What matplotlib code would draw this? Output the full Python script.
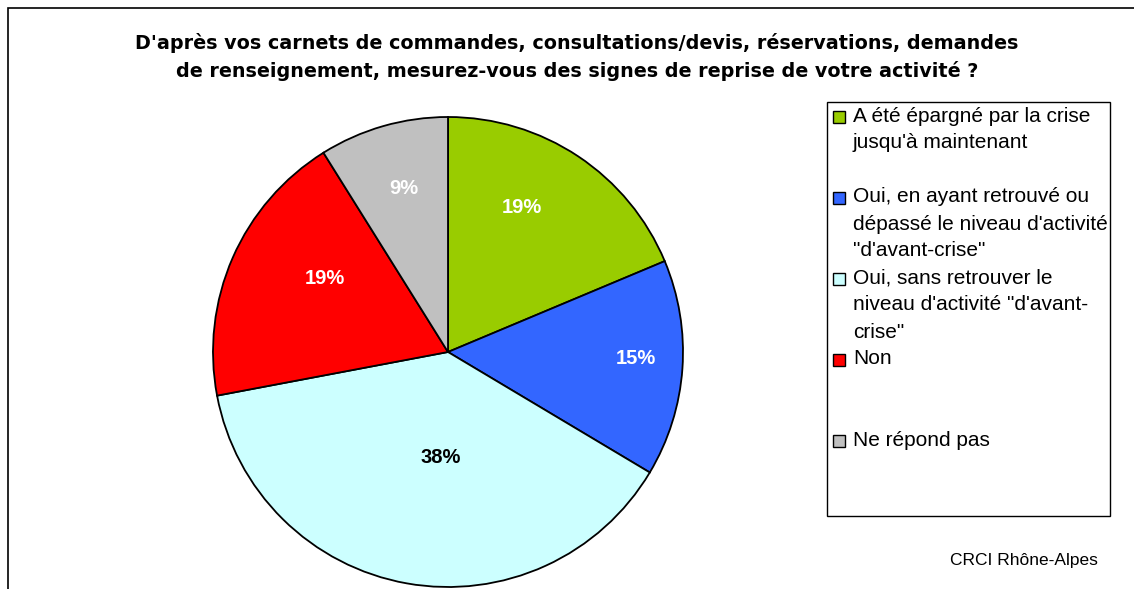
import matplotlib
matplotlib.use("Agg")
import matplotlib.pyplot as plt
from matplotlib.patches import Rectangle
import numpy as np

plt.rcParams['font.family'] = ['Liberation Sans', 'DejaVu Sans']

# ---- data ----
categories = [
    "A été épargné par la crise\njusqu'à maintenant",
    "Oui, en ayant retrouvé ou\ndépassé le niveau d'activité\n\"d'avant-crise\"",
    "Oui, sans retrouver le\nniveau d'activité \"d'avant-\ncrise\"",
    "Non",
    "Ne répond pas",
]
values = [18.7, 14.9, 38.5, 19.1, 8.9]
pct_labels = ["19%", "15%", "38%", "19%", "9%"]
title = ("D'après vos carnets de commandes, consultations/devis, réservations, demandes\n"
         "de renseignement, mesurez-vous des signes de reprise de votre activité ?")
source = "CRCI Rhône-Alpes"

# ---- style ----
colors = ["#99CC00", "#3366FF", "#CCFFFF", "#FF0000", "#C0C0C0"]
label_colors = ["white", "white", "black", "white", "white"]
label_dist = [0.69, 0.80, 0.45, 0.61, 0.72]
label_dang = [6.4, 2.2, 6.2, -7.3, -1.0]

W, H = 1134, 589
fig = plt.figure(figsize=(W / 100, H / 100), dpi=100)

def fx(px):
    return px / W

def fy(py):
    return 1 - py / H

# figure border (left & top visible, rest clipped)
fig.patches.append(Rectangle((fx(8), fy(H + 10)), fx(W + 20), (H + 1 - 9) / H + 10 / H,
                             transform=fig.transFigure, fill=False,
                             edgecolor="black", linewidth=1.2, zorder=0))

# pie axes
cx, cy, r = 448, 352, 235
ax = fig.add_axes([fx(cx - r), fy(cy + r), 2 * r / W, 2 * r / H])
wedges, _ = ax.pie(values, colors=colors, startangle=90, counterclock=False,
                   wedgeprops=dict(edgecolor="black", linewidth=1.3), radius=1)
ax.set_xlim(-1, 1)
ax.set_ylim(-1, 1)
ax.set_aspect("equal")
ax.axis("off")

for w, lab, col, d, da in zip(wedges, pct_labels, label_colors, label_dist, label_dang):
    mid = np.deg2rad((w.theta1 + w.theta2) / 2 + da)
    ax.text(d * np.cos(mid), d * np.sin(mid), lab, ha="center", va="center",
            color=col, fontsize=14.5, fontweight="bold")

# title
for k, line in enumerate(title.split("\n")):
    fig.text(fx(577), fy(43 + k * 28), line, ha="center", va="center", fontsize=13.8,
             fontweight="bold", family=["DejaVu Sans"])

# legend box
lx0, ly0, lx1, ly1 = 827, 102, 1110, 516
fig.patches.append(Rectangle((fx(lx0), fy(ly1)), fx(lx1 - lx0), (ly1 - ly0) / H,
                             transform=fig.transFigure, fill=False,
                             edgecolor="black", linewidth=1.0))
line_h = 27
first_y = 116
for i, (cat, col) in enumerate(zip(categories, colors)):
    y0 = first_y + i * 3 * line_h
    fig.patches.append(Rectangle((fx(833), fy(y0 + 6.5)), fx(12), 12 / H,
                                 transform=fig.transFigure, facecolor=col,
                                 edgecolor="black", linewidth=1.0))
    for j, line in enumerate(cat.split("\n")):
        fig.text(fx(853), fy(y0 + j * line_h), line, ha="left", va="center",
                 fontsize=15)

fig.text(fx(1098), fy(561), source, ha="right", va="center", fontsize=12.5)

fig.savefig("out.png", dpi=100)
